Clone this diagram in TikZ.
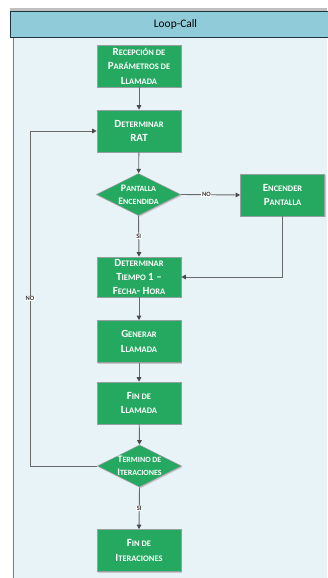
\documentclass[tikz,border=0pt]{standalone}
\usepackage{fontspec}
\setmainfont{Carlito}
\usetikzlibrary{arrows.meta,shapes.geometric}
\definecolor{paneBg}{RGB}{232,243,248}
\definecolor{headFill}{RGB}{143,203,216}
\definecolor{headLine}{RGB}{30,52,62}
\definecolor{stepGreen}{RGB}{37,168,96}
\definecolor{stepEdge}{RGB}{150,160,160}
\definecolor{flowLine}{RGB}{105,105,105}
\definecolor{tipDark}{RGB}{75,75,75}
% faked small capitals: first letter large, the rest in smaller capitals
\newcommand\smc[1]{{\fontsize{8.5}{14.5}\selectfont #1}}
\newcommand\smd[1]{{\fontsize{8}{13}\selectfont #1}}
\tikzset{
  stepbox/.style={rectangle, fill=stepGreen, draw=stepEdge, line width=0.6bp,
    minimum width=84bp, minimum height=42bp, inner sep=0pt,
    preaction={fill=black!22, transform canvas={xshift=1.2bp,yshift=-1.2bp}}},
  decbox/.style={diamond, fill=stepGreen, draw=stepEdge, line width=0.6bp,
    minimum width=84bp, minimum height=42bp, inner sep=0pt, aspect=2,
    preaction={fill=black!22, transform canvas={xshift=1.2bp,yshift=-1.2bp}}},
  steptext/.style={text=white, font=\bfseries\fontsize{11}{14.5}\selectfont,
    align=center, inner sep=0pt},
  dectext/.style={text=white, font=\bfseries\fontsize{10}{13}\selectfont,
    align=center, inner sep=0pt},
  flow/.style={draw=flowLine, line width=0.9bp,
    -{Triangle[length=4.5bp,width=4.5bp,color=tipDark,fill=tipDark]}},
  tag/.style={fill=white, text=black!80, inner sep=0.6bp,
    font=\bfseries\fontsize{6.5}{7}\selectfont}
}
\begin{document}
\begin{tikzpicture}[x=1bp,y=-1bp]
\useasboundingbox (0,0) rectangle (327,578);
\fill[white] (0,0) rectangle (327,578);

% pool frame
\fill[paneBg] (13,37) rectangle (327,578);
\fill[black!25] (10,8) rectangle (327,11);
\draw[stepEdge!80!black, line width=1bp] (13,37) -- (13,578);

% header band
\node[rectangle, fill=headFill, draw=headLine, line width=1bp,
  minimum width=330bp, minimum height=25.5bp, anchor=north west, inner sep=0pt]
  (header) at (10,11.5) {};
\node[text=black, font=\fontsize{11.5}{13}\selectfont, inner sep=0pt] (title)
  at (header.center) {Loop-Call};

% steps
\node[stepbox] (recep) at (139,66) {};
\node[steptext] at (recep) {R\smc{ECEPCIÓN DE}\\P\smc{ARÁMETROS DE}\\L\smc{LAMADA}};

\node[stepbox] (rat) at (139,131) {};
\node[steptext] at (rat) {D\smc{ETERMINAR}\\RAT};

\node[decbox] (pant) at (138.5,194.5) {};
\node[dectext] at (pant) {P\smd{ANTALLA}\\E\smd{NCENDIDA}};

\node[stepbox] (encender) at (282.5,195) {};
\node[steptext] at (encender) {E\smc{NCENDER}\\P\smc{ANTALLA}};

\node[stepbox, minimum height=40bp] (tiempo) at (139,277) {};
\node[steptext] at (tiempo) {D\smc{ETERMINAR}\\T\smc{IEMPO} 1 –\\F\smc{ECHA}- H\smc{ORA}};

\node[stepbox] (generar) at (139,341.5) {};
\node[steptext] at (generar) {G\smc{ENERAR}\\L\smc{LAMADA}};

\node[stepbox] (finllam) at (139,403) {};
\node[steptext] at (finllam) {F\smc{IN DE}\\L\smc{LAMADA}};

\node[decbox] (termino) at (139.5,466) {};
\node[dectext] at (termino) {T\smd{ERMINO DE}\\I\smd{TERACIONES}};

\node[stepbox] (finiter) at (139,550.5) {};
\node[steptext] at (finiter) {F\smc{IN DE}\\I\smc{TERACIONES}};

% connectors
\draw[flow] (recep) -- (rat);
\draw[flow] (rat) -- (pant);
\draw[flow] (pant.east) -- node[tag, pos=0.43] {NO} (encender.west);
\draw[flow] (pant.south) -- node[tag, pos=0.5] {SI} (tiempo.north);
\draw[flow] (encender.south) |- (tiempo.east);
\draw[flow] (tiempo) -- (generar);
\draw[flow] (generar) -- (finllam);
\draw[flow] (finllam) -- (termino.north);
\draw[flow] (termino.south) -- node[tag, pos=0.5] {SI} (finiter.north);
\coordinate (loopx) at (30,0);
\draw[flow] (termino.west) -- (termino.west -| loopx)
  -- node[tag, pos=0.5] {NO} (rat.west -| loopx) -- (rat.west);
\end{tikzpicture}
\end{document}
